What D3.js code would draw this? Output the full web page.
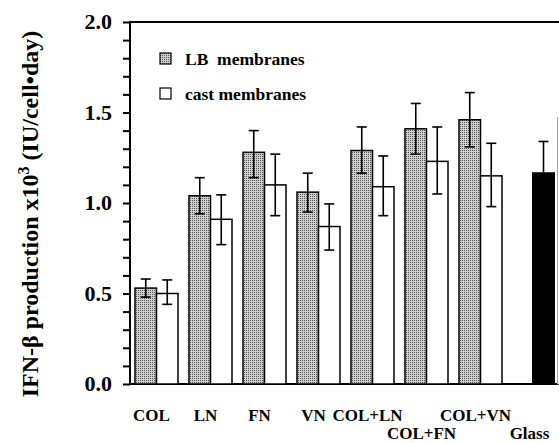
<!DOCTYPE html>
<html>
<head>
<meta charset="utf-8">
<script src="https://cdn.jsdelivr.net/npm/d3@7"></script>
<style>
body{
	margin:0;
	background-color: white;
}
text{
	font-family: "Liberation Serif", "DejaVu Serif", serif;
	font-weight: bold;
}
</style>
</head>
<body>
<div id="chart"></div>
<script>
// values
var categories = ["COL","LN","FN","VN","COL+LN","COL+FN","COL+VN","Glass"];
var labelRow   = [0,0,0,0,0,1,0,1];
var lbMean  = [0.53,1.04,1.28,1.06,1.29,1.41,1.46];
var lbHigh  = [0.58,1.14,1.40,1.165,1.42,1.55,1.61];
var lbLow   = [0.48,0.94,1.14,0.95,1.165,1.27,1.31];
var castMean = [0.50,0.91,1.10,0.87,1.09,1.23,1.15];
var castHigh = [0.575,1.045,1.27,0.995,1.26,1.42,1.33];
var castLow  = [0.44,0.77,0.93,0.74,0.93,1.05,0.98];
var glassMean = [1.17];
var glassHigh = [1.34];
var edgeMean = [1.47]; // bar cut off at the right edge
var majorTicks = [0,0.5,1,1.5,2];
var legendLabels = ["LB  membranes","cast membranes"];

var W = 559, H = 443;
var plotLeft = 130, plotTop = 22, plotBottom = 384;

var svg = d3.select('#chart').append('svg')
	.attr('width',W)
	.attr('height',H);

var defs = svg.append('defs');
var pat = defs.append('pattern')
	.attr('id','stipple')
	.attr('width',2).attr('height',2)
	.attr('patternUnits','userSpaceOnUse');
pat.append('rect').attr('width',2).attr('height',2).attr('fill','#cfcfcf');
pat.append('rect').attr('width',1).attr('height',1).attr('fill','#555');

var y = d3.scaleLinear().domain([0,2]).range([plotBottom,plotTop]);
var x = d3.scaleBand().domain(categories).range([135,556]).paddingInner(0.2037);
var x1 = d3.scaleBand().domain(["LB","cast"]).range([0,x.bandwidth()]);

// y axis
var minor = d3.range(0,21).map(function(d){ return d/10; });
var yAxis = d3.axisLeft(y)
	.tickValues(minor)
	.tickSize(7)
	.tickPadding(11)
	.tickFormat(function(d){
		return majorTicks.some(function(m){ return Math.abs(m-d)<1e-6; }) ? d3.format('.1f')(d) : '';
	});
var ga = svg.append('g').attr('transform','translate('+plotLeft+',0)').call(yAxis);
ga.select('.domain').remove();
ga.selectAll('.tick line').attr('stroke','#000').attr('stroke-width',2);
ga.selectAll('.tick text')
	.attr('fill','#000')
	.style('font-size','22px')
	.attr('dy','0.3em');
svg.append('line').attr('x1',plotLeft).attr('x2',plotLeft).attr('y1',plotTop-1).attr('y2',plotBottom+1)
	.attr('stroke','#000').attr('stroke-width',2);
svg.append('line').attr('x1',plotLeft-1).attr('x2',W).attr('y1',plotTop).attr('y2',plotTop)
	.attr('stroke','#000').attr('stroke-width',2);
svg.append('line').attr('x1',plotLeft-1).attr('x2',W).attr('y1',plotBottom).attr('y2',plotBottom)
	.attr('stroke','#000').attr('stroke-width',2);

// bars
var pairs = categories.slice(0,7).map(function(c,i){
	return [
		{cat:c, key:'LB', v:lbMean[i], hi:lbHigh[i], lo:lbLow[i]},
		{cat:c, key:'cast', v:castMean[i], hi:castHigh[i], lo:castLow[i]}
	];
});
var bars = [].concat.apply([],pairs);

svg.selectAll('rect.bar').data(bars).enter().append('rect')
	.attr('class','bar')
	.attr('x',function(d){ return x(d.cat)+x1(d.key); })
	.attr('width',x1.bandwidth())
	.attr('y',function(d){ return y(d.v); })
	.attr('height',function(d){ return y(0)-y(d.v); })
	.attr('fill',function(d){ return d.key=='LB' ? 'url(#stipple)' : '#fff'; })
	.attr('stroke','#000')
	.attr('stroke-width',1.5);

var gw = 23, goff = 19;
svg.selectAll('rect.glass').data(glassMean).enter().append('rect')
	.attr('class','glass')
	.attr('x',x('Glass')+goff)
	.attr('width',gw)
	.attr('y',function(d){ return y(d); })
	.attr('height',function(d){ return y(0)-y(d); })
	.attr('fill','#000');
svg.selectAll('rect.edge').data(edgeMean).enter().append('rect')
	.attr('class','edge')
	.attr('x',557.5)
	.attr('width',20)
	.attr('y',function(d){ return y(d); })
	.attr('height',function(d){ return y(0)-y(d); })
	.attr('fill','#fff')
	.attr('stroke','#aaa')
	.attr('stroke-width',1);

// error bars
function errBar(cx, v, hi, lo){
	var g = svg.append('g').attr('stroke','#000').attr('stroke-width',1.6);
	g.append('line').attr('x1',cx).attr('x2',cx).attr('y1',y(v)).attr('y2',y(hi));
	g.append('line').attr('x1',cx-5).attr('x2',cx+5).attr('y1',y(hi)).attr('y2',y(hi));
	if(lo!=null){
		g.append('line').attr('x1',cx).attr('x2',cx).attr('y1',y(v)).attr('y2',y(lo));
		g.append('line').attr('x1',cx-5).attr('x2',cx+5).attr('y1',y(lo)).attr('y2',y(lo));
	}
}
bars.forEach(function(d){
	errBar(x(d.cat)+x1(d.key)+x1.bandwidth()/2, d.v, d.hi, d.lo);
});
errBar(x('Glass')+goff+gw/2, glassMean[0], glassHigh[0], null);

// category labels (sit a little left of the group centre, second row staggered)
svg.selectAll('text.cat').data(categories).enter().append('text')
	.attr('class','cat')
	.attr('x',function(d){ return x(d)+x.bandwidth()/2-5; })
	.attr('y',function(d,i){ return 421+labelRow[i]*18; })
	.attr('text-anchor','middle')
	.style('font-size','17px')
	.text(function(d){ return d; });

// legend
var lg = svg.selectAll('g.leg').data(legendLabels).enter().append('g')
	.attr('class','leg')
	.attr('transform',function(d,i){ return 'translate(160,'+(53+i*35)+')'; });
lg.append('rect').attr('width',11).attr('height',11)
	.attr('fill',function(d,i){ return i==0 ? 'url(#stipple)' : '#fff'; })
	.attr('stroke','#000').attr('stroke-width',1.2);
lg.append('text').attr('x',25).attr('y',11.5)
	.style('font-size','17.5px')
	.style('white-space','pre')
	.attr('xml:space','preserve')
	.text(function(d){ return d; });

// y title
var t = svg.append('text')
	.attr('transform','translate(38,214) rotate(-90)')
	.attr('text-anchor','middle')
	.style('font-size','24px');
t.append('tspan').text('IFN-\u03b2 production x10');
t.append('tspan').attr('dy','-9').style('font-size','16px').text('3');
t.append('tspan').attr('dy','9').text(' (IU/cell\u2022day)');
</script>
</body>
</html>
